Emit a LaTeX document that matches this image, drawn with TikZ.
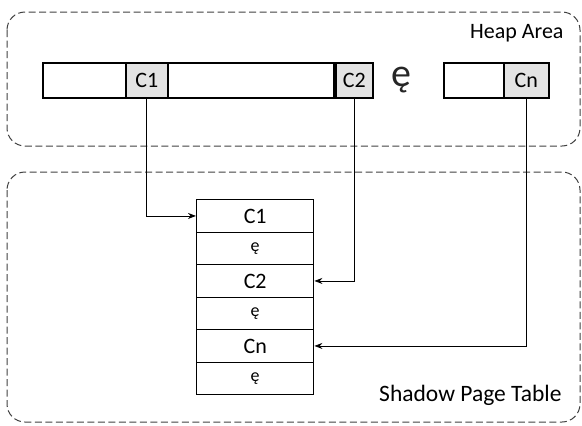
\documentclass[tikz,border=0pt]{standalone}
\usepackage{fontspec}
\setmainfont{Carlito}
\usetikzlibrary{arrows.meta,shadows}

\begin{document}
\begin{tikzpicture}[
    x=1pt, y=-1pt,
    area/.style={draw=black!75, dash pattern=on 7pt off 3.5pt, rounded corners=18pt, line width=1pt},
    seg/.style={draw, line width=1.6pt, minimum height=35pt, inner sep=0pt, anchor=north west, fill=white,
        font=\fontsize{22}{26}\selectfont, drop shadow={shadow xshift=1.5pt, shadow yshift=-1.5pt, fill=black!25}},
    chunk/.style={seg, fill=gray!22},
    slot/.style={draw, line width=1.4pt, minimum width=117pt, minimum height=32.5pt, inner sep=0pt, anchor=north west,
        fill=white, font=\fontsize{22}{26}\selectfont},
    link/.style={-{Stealth[length=8pt,width=6pt]}, line width=0.9pt}
]
\useasboundingbox (0,0) rectangle (582,426);

% Heap area
\draw[area] (7,12) rectangle (580,146);
\node[anchor=north east, font=\fontsize{22}{26}\selectfont] (heaplbl) at (567,21) {Heap Area};

\node[seg, minimum width=83pt] (s1) at (42,62) {};
\node[chunk, minimum width=42pt] (c1) at (125,62) {C1};
\node[seg, minimum width=166pt] (s2) at (167,62) {};
\node[chunk, minimum width=37pt] (c2) at (335,62) {C2};
\node[font=\fontsize{40}{42}\selectfont, text=black!85] (dots) at (401,80) {ę};
\node[seg, minimum width=60pt] (s3) at (443,62) {};
\node[chunk, minimum width=45pt] (cn) at (503,62) {Cn};

% Shadow page table
\draw[area] (7,172) rectangle (580,422);
\node[anchor=north east, font=\fontsize{23.5}{27}\selectfont] (tbllbl) at (565,382) {Shadow Page Table};

\begin{scope}[drop shadow={shadow xshift=1.5pt, shadow yshift=-1.5pt, fill=black!25}]
\fill[white] (196,199) rectangle (313,394);
\end{scope}
\node[slot] (t1) at (196,199) {C1};
\node[slot] (t2) at (196,231.5) {\fontsize{18}{20}\selectfont ę};
\node[slot] (t3) at (196,264) {C2};
\node[slot] (t4) at (196,296.5) {\fontsize{18}{20}\selectfont ę};
\node[slot] (t5) at (196,329) {Cn};
\node[slot] (t6) at (196,361.5) {\fontsize{18}{20}\selectfont ę};

% Links
\draw[link] (c1.south) |- (t1.west);
\draw[link] (c2.south) |- (t3.east);
\draw[link] (cn.south) |- (t5.east);

\end{tikzpicture}
\end{document}
